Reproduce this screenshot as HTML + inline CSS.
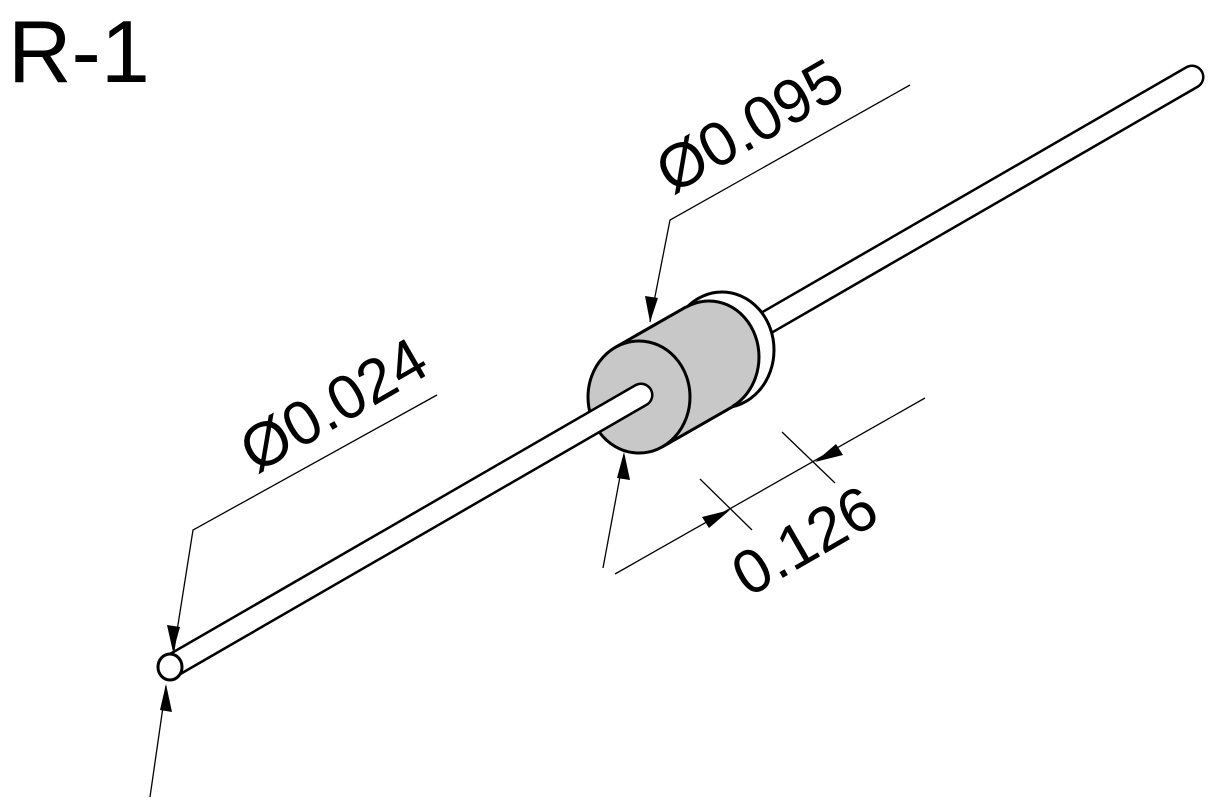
<!DOCTYPE html>
<html><head><meta charset="utf-8"><style>
html,body{margin:0;padding:0;background:#fff;}
svg{display:block;}
text{font-family:"Liberation Sans",sans-serif;fill:#000;}
</style></head><body>
<svg width="1218" height="809" viewBox="0 0 1218 809">
<text x="8" y="82" font-size="88">R-1</text>
<!-- right lead -->
<line x1="740" y1="338" x2="1192" y2="77" stroke="#000" stroke-width="25" stroke-linecap="round"/>
<line x1="740" y1="338" x2="1192" y2="77" stroke="#fff" stroke-width="20" stroke-linecap="round"/>
<!-- ring -->
<ellipse cx="722" cy="350" rx="52" ry="58" fill="#fff" stroke="#000" stroke-width="3"/>
<!-- body -->
<polygon points="616,347 686,307 732,407 662,447" fill="#c8c8c8"/>
<line x1="616" y1="347" x2="686" y2="307" stroke="#000" stroke-width="3"/>
<line x1="662" y1="447" x2="732" y2="407" stroke="#000" stroke-width="3"/>
<ellipse cx="709" cy="357" rx="50" ry="56" fill="#c8c8c8" stroke="#000" stroke-width="3"/>
<polygon points="616,347 686,307 732,407 662,447" fill="#c8c8c8"/>
<line x1="616" y1="347" x2="686" y2="307" stroke="#000" stroke-width="3"/>
<line x1="662" y1="447" x2="732" y2="407" stroke="#000" stroke-width="3"/>
<ellipse cx="639" cy="397" rx="51" ry="56" fill="#c8c8c8" stroke="#000" stroke-width="3"/>
<!-- left lead -->
<line x1="170" y1="667" x2="641" y2="395" stroke="#000" stroke-width="25" stroke-linecap="round"/>
<line x1="170" y1="667" x2="641" y2="395" stroke="#fff" stroke-width="20" stroke-linecap="round"/>
<ellipse cx="170" cy="667" rx="12" ry="13" fill="#fff" stroke="#000" stroke-width="3"/>
<!-- dims -->
<g stroke="#000" stroke-width="1.3" fill="none">
<polyline points="437,395 193,530 174,650"/>
<line x1="150" y1="797" x2="166" y2="686"/>
<polyline points="910,85 670,220 650,322"/>
<line x1="603" y1="568" x2="624" y2="455"/>
<line x1="615" y1="574" x2="925" y2="398"/>
<line x1="700" y1="479" x2="752" y2="530"/>
<line x1="782" y1="432" x2="835" y2="483"/>
</g>
<g fill="#000">
<polygon points="173,652 167,625 180,627"/>
<polygon points="166,684 160,710 172,712"/>
<polygon points="650,322 645,296 658,298"/>
<polygon points="624,452 617,478 630,480"/>
<polygon points="730,510 702,517 709,528"/>
<polygon points="815,462 843,455 836,444"/>
</g>
<text font-size="62" transform="translate(256,474) rotate(-30)">Ø0.024</text>
<text font-size="62" transform="translate(672,195) rotate(-30)">Ø0.095</text>
<text font-size="62" transform="translate(748,598) rotate(-30)">0.126</text>
</svg>
</body></html>
